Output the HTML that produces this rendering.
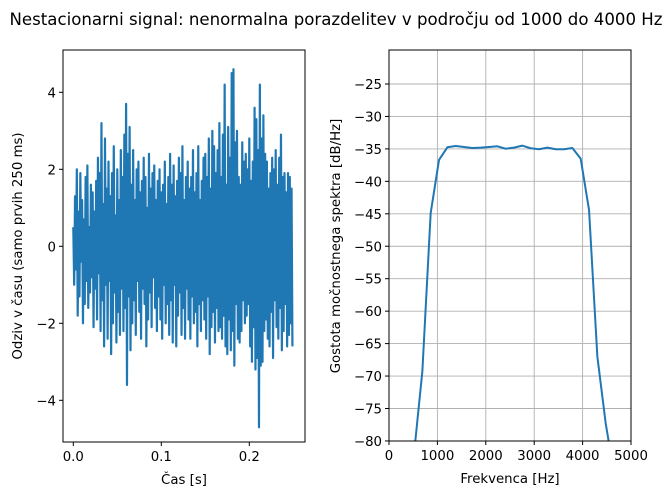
<!DOCTYPE html>
<html><head><meta charset="utf-8"><style>
body{margin:0;background:#fff}
svg{display:block;font-family:"DejaVu Sans","Liberation Sans",sans-serif}
</style></head><body>
<svg id="fig" width="672" height="497" viewBox="0 0 672 497">
<text x="336" y="25" text-anchor="middle" font-size="16.6">Nestacionarni signal: nenormalna porazdelitev v področju od 1000 do 4000 Hz</text>
<g id="left"></g>
<g id="right"></g>
</svg>
<script>
const signalValues=[0.5,-1.0,1.3,-0.6,2.0,-1.8,0.9,-1.3,1.9,-0.4,
1.2,-2.0,0.7,-1.5,1.8,-0.9,2.1,-1.6,0.5,-1.2,
1.6,-0.8,1.4,-2.1,0.9,-1.1,1.7,-1.9,2.3,-0.7,
1.9,-2.2,3.2,-1.4,1.1,-2.6,2.8,-1.0,1.5,-2.4,
2.2,-0.9,1.3,-2.8,1.9,-2.0,2.6,-1.2,0.8,-2.5,
2.0,-1.7,1.2,-2.3,2.5,-1.1,1.8,-2.2,2.9,-1.6,
3.7,-3.6,2.4,-1.3,3.1,-2.7,1.6,-2.0,2.5,-1.4,
1.2,-2.3,2.0,-0.9,2.2,-1.7,1.4,-2.4,1.7,-1.1,
2.3,-1.5,1.8,-2.6,1.0,-1.9,2.4,-1.2,1.5,-2.1,
1.9,-0.8,2.1,-1.6,1.2,-2.2,1.7,-1.3,2.0,-1.9,
1.4,-2.4,1.6,-1.0,2.2,-2.0,1.1,-1.5,1.8,-2.3,
2.4,-1.4,1.6,-2.5,2.1,-1.0,1.3,-2.6,1.7,-1.8,
2.3,-1.2,1.9,-2.3,2.6,-1.6,1.2,-2.4,1.8,-1.1,
2.2,-1.9,1.5,-2.4,1.8,-1.3,2.5,-2.0,1.4,-1.7,
1.9,-2.6,2.6,-1.5,1.2,-2.2,1.7,-1.4,2.3,-1.9,
2.4,-2.4,1.8,-1.3,2.8,-2.8,1.5,-2.1,3.0,-1.7,
2.6,-2.5,1.9,-1.6,2.5,-2.2,3.2,-2.1,1.8,-2.4,
2.9,-1.8,4.2,-2.6,1.6,-2.8,3.1,-1.9,2.3,-2.7,
4.5,-2.2,4.6,-3.1,2.7,-1.5,3.0,-2.4,1.8,-2.5,
1.6,-2.2,2.7,-1.4,2.2,-2.0,2.4,-1.8,2.0,-1.5,
2.8,-2.6,1.7,-3.0,2.2,-2.1,3.6,-3.2,3.3,-2.9,
2.5,-4.7,4.2,-3.1,2.8,-3.0,3.4,-2.2,2.4,-1.9,
2.2,-2.4,1.5,-2.6,1.9,-1.7,2.3,-2.9,2.0,-1.4,
2.5,-2.1,1.6,-2.4,2.3,-1.6,2.9,-2.7,1.8,-2.2,
1.9,-1.5,1.4,-2.6,1.9,-2.3,1.8,-2.0,1.5,-2.6];
const signalDt=0.001;
const leftXTicks=[0.0,0.1,0.2];
const leftXTickLabels=["0.0","0.1","0.2"];
const leftYTicks=[4,2,0,-2,-4];
const leftYTickLabels=["4","2","0","\u22122","\u22124"];
const psdFreqs=[516.6,688.8,861,1033.2,1205.4,1377.6,1549.8,1722,1894.2,2066.4,2238.6,2410.8,2583,2755.2,2927.4,3099.6,3271.8,3444,3616.2,3788.4,3960.6,4132.8,4305,4477.2,4649.4];
const psdValues=[-82,-69.3,-44.9,-36.7,-34.75,-34.55,-34.7,-34.86,-34.8,-34.7,-34.6,-34.97,-34.8,-34.5,-34.9,-35.06,-34.8,-35.06,-35.06,-34.86,-36.5,-44.4,-67.0,-77.3,-85];
const rightXTicks=[0,1000,2000,3000,4000,5000];
const rightXTickLabels=["0","1000","2000","3000","4000","5000"];
const rightYTicks=[-25,-30,-35,-40,-45,-50,-55,-60,-65,-70,-75,-80];
const rightYTickLabels=rightYTicks.map(v=>"\u2212"+Math.abs(v));

const NS="http://www.w3.org/2000/svg";
function mk(parent,tag,attrs){const e=document.createElementNS(NS,tag);for(const k in attrs)e.setAttribute(k,attrs[k]);parent.appendChild(e);return e;}
const FS=13.3;

// LEFT
const L=document.getElementById('left');
const lx0=63,lx1=305,ly0=50,ly1=442;
const lxs=v=>73.3+v*880;
const lys=v=>246.3-v*38.5;
let s='';
signalValues.forEach((v,i)=>{s+=(i?'L':'M')+lxs(i*signalDt).toFixed(2)+','+lys(v).toFixed(2);});
const ll=mk(L,'path',{d:s,fill:'none',stroke:'#1f77b4','stroke-width':2.2,'stroke-linejoin':'round'});


const lf=mk(L,'rect',{x:lx0,y:ly0,width:lx1-lx0,height:ly1-ly0,fill:'none',stroke:'#000','stroke-width':1});


leftXTicks.forEach((v,i)=>{const x=lxs(v);mk(L,'line',{x1:x,x2:x,y1:ly1,y2:ly1+4,stroke:'#000'});
const t=mk(L,'text',{x:x,y:ly1+19,'text-anchor':'middle','font-size':FS});t.textContent=leftXTickLabels[i];

});
leftYTicks.forEach((v,i)=>{const y=lys(v);mk(L,'line',{x1:lx0-4,x2:lx0,y1:y,y2:y,stroke:'#000'});
const t=mk(L,'text',{x:lx0-7,y:y+5,'text-anchor':'end','font-size':FS});t.textContent=leftYTickLabels[i];

});
let t=mk(L,'text',{x:184,y:484,'text-anchor':'middle','font-size':FS});t.textContent='Čas [s]';


t=mk(L,'text',{x:0,y:0,'text-anchor':'middle','font-size':FS,transform:'translate(22,246) rotate(-90)'});t.textContent='Odziv v času (samo prvih 250 ms)';



// RIGHT
const R=document.getElementById('right');
const rx0=389,rx1=631,ry0=50,ry1=441;
const rxs=v=>389+v*0.0484;
const rys=v=>84-(v+25)/5*32.45;
rightXTicks.forEach(v=>{const x=rxs(v);mk(R,'line',{x1:x,x2:x,y1:ry0,y2:ry1,stroke:'#b0b0b0','stroke-width':0.9});});
rightYTicks.forEach(v=>{const y=rys(v);mk(R,'line',{x1:rx0,x2:rx1,y1:y,y2:y,stroke:'#b0b0b0','stroke-width':0.9});});
mk(R,'clipPath',{id:'rc'}).appendChild(document.createElementNS(NS,'rect'));
const cr=R.querySelector('#rc rect');cr.setAttribute('x',rx0);cr.setAttribute('y',ry0);cr.setAttribute('width',rx1-rx0);cr.setAttribute('height',ry1-ry0);
s='';psdFreqs.forEach((f,i)=>{s+=(i?'L':'M')+rxs(f).toFixed(2)+','+rys(psdValues[i]).toFixed(2);});
const pl=mk(R,'path',{d:s,fill:'none',stroke:'#1f77b4','stroke-width':2,'clip-path':'url(#rc)','stroke-linejoin':'round'});


const rf=mk(R,'rect',{x:rx0,y:ry0,width:rx1-rx0,height:ry1-ry0,fill:'none',stroke:'#000','stroke-width':1});


rightXTicks.forEach((v,i)=>{const x=rxs(v);mk(R,'line',{x1:x,x2:x,y1:ry1,y2:ry1+4,stroke:'#000'});
const t=mk(R,'text',{x:x,y:ry1+19,'text-anchor':'middle','font-size':FS});t.textContent=rightXTickLabels[i];

});
rightYTicks.forEach((v,i)=>{const y=rys(v);mk(R,'line',{x1:rx0-4,x2:rx0,y1:y,y2:y,stroke:'#000'});
const t=mk(R,'text',{x:rx0-7,y:y+5,'text-anchor':'end','font-size':FS});t.textContent=rightYTickLabels[i];

});
t=mk(R,'text',{x:510,y:483,'text-anchor':'middle','font-size':FS});t.textContent='Frekvenca [Hz]';


t=mk(R,'text',{x:0,y:0,'text-anchor':'middle','font-size':FS,transform:'translate(340,246) rotate(-90)'});t.textContent='Gostota močnostnega spektra [dB/Hz]';


</script>
</body></html>
